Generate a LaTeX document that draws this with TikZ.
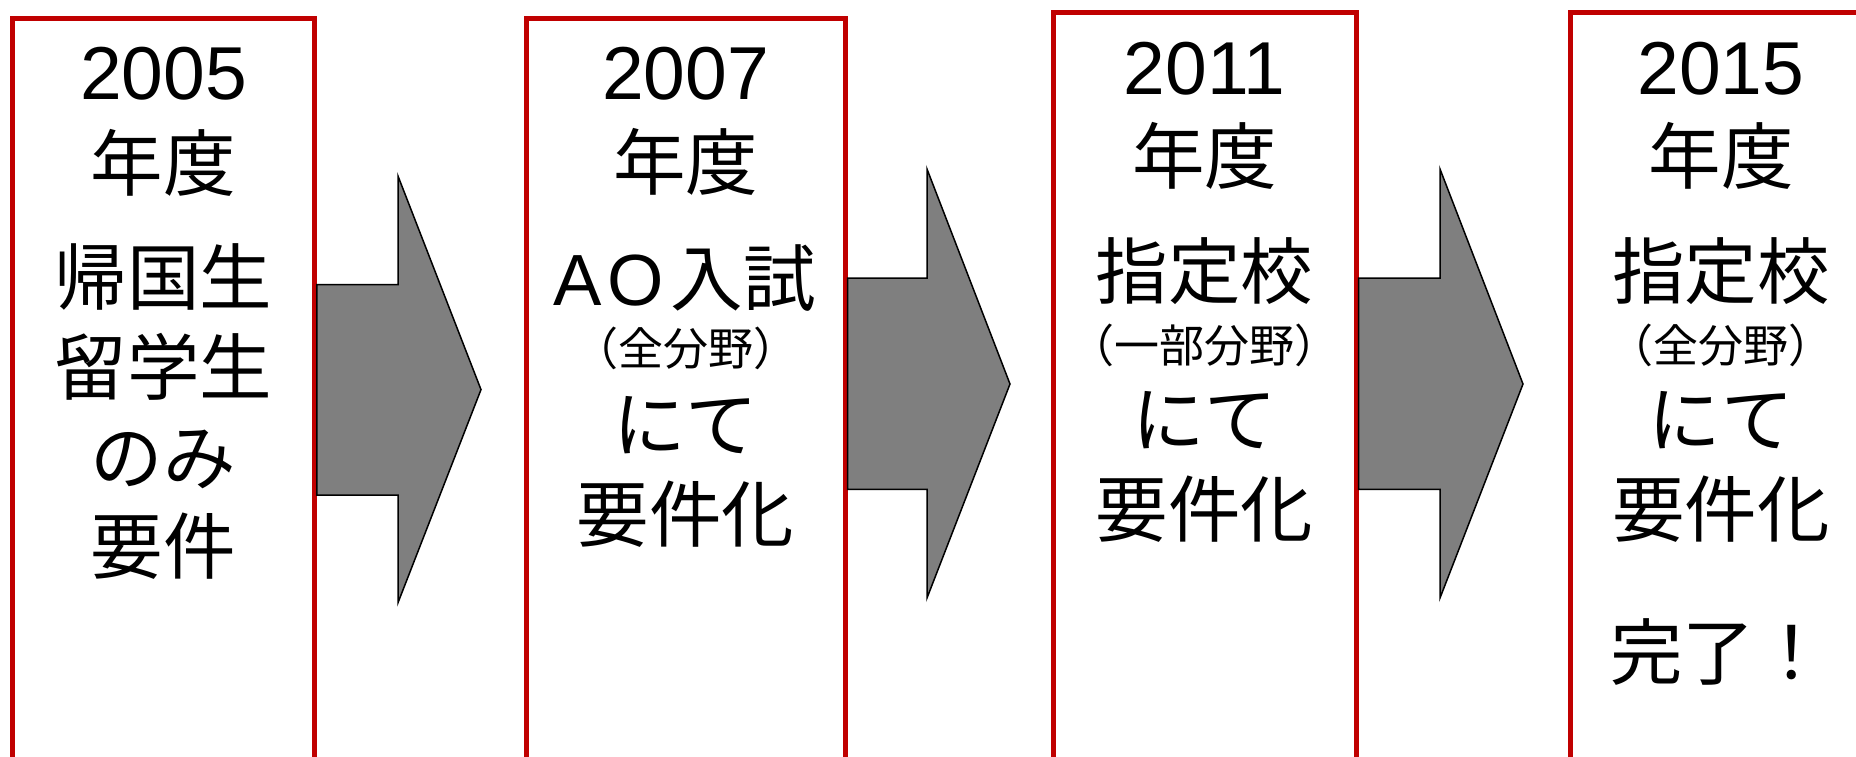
\documentclass[tikz,border=0pt]{standalone}
\usepackage{fontspec}
\setmainfont{Liberation Sans}
\newfontfamily\jp{Noto Sans CJK JP}
\definecolor{boxred}{HTML}{C00000}
\definecolor{arrowgray}{HTML}{7F7F7F}
\begin{document}
\begin{tikzpicture}[x=0.4pt,y=-0.4pt,
  yearbox/.style={draw=boxred, line width=2pt, fill=white, anchor=north, inner sep=0pt},
  bigtxt/.style={inner sep=0pt, anchor=base, font=\fontsize{30pt}{30pt}\selectfont},
  jtxt/.style={inner sep=0pt, anchor=base, font=\fontsize{29pt}{29pt}\selectfont\jp},
  smalltxt/.style={inner sep=0pt, anchor=base, font=\fontsize{18pt}{18pt}\selectfont\jp},
  blockarrow/.style={draw=black, line width=0.6pt, fill=arrowgray, line join=miter}]
\useasboundingbox (0,0) rectangle (1856,756);
\clip (0,0) rectangle (1856,756);
% boxes
\node[yearbox, minimum width=120.6pt, minimum height=313.6pt] (b1) at (163.5,16) {};
\node[yearbox, minimum width=127.6pt, minimum height=313.6pt] (b2) at (685.5,16) {};
\node[yearbox, minimum width=121.2pt, minimum height=316pt] (b3) at (1204.5,10) {};
\node[yearbox, minimum width=121.2pt, minimum height=316pt] (b4) at (1721.5,10) {};
% arrows
\draw[blockarrow] (b1.east |- 0,284.5) -- (398,284.5) -- (398,176) -- (481,389.6) -- (398,602.7) -- (398,495.2) -- (b1.east |- 0,495.2) -- cycle;
\draw[blockarrow] (b2.east |- 0,278) -- (927,278) -- (927,169) -- (1010,384) -- (927,598) -- (927,489.4) -- (b2.east |- 0,489.4) -- cycle;
\draw[blockarrow] (b3.east |- 0,278) -- (1440,278) -- (1440,169) -- (1523,384) -- (1440,598) -- (1440,489.4) -- (b3.east |- 0,489.4) -- cycle;
% box 1 text
\node[bigtxt] (t1a) at (163.5,99) {2005};
\node[jtxt] (t1b) at (163.5,190) {年度};
\node[jtxt] (t1c) at (163.5,304) {帰国生};
\node[jtxt] (t1d) at (163.5,394) {留学生};
\node[jtxt] (t1e) at (163.5,484) {のみ};
\node[jtxt] (t1f) at (163.5,573) {要件};
% box 2 text
\node[bigtxt] (t2a) at (685.5,99) {2007};
\node[jtxt] (t2b) at (685.5,189) {年度};
\node[jtxt] (t2c) at (684.5,305.5) {{\rmfamily A\hspace{2.5pt}O\hspace{2.5pt}}入試};
\node[smalltxt] (t2d) at (685.5,365.5) {（全分野）};
\node[jtxt] (t2e) at (685.5,451) {にて};
\node[jtxt] (t2f) at (685.5,541.5) {要件化};
% box 3 text
\node[bigtxt] (t3a) at (1204.5,94) {2011};
\node[jtxt] (t3b) at (1204.5,183.5) {年度};
\node[jtxt] (t3c) at (1204.5,298.5) {指定校};
\node[smalltxt] (t3d) at (1204.5,362.5) {（一部分野）};
\node[jtxt] (t3e) at (1204.5,446) {にて};
\node[jtxt] (t3f) at (1204.5,536.5) {要件化};
% box 4 text
\node[bigtxt] (t4a) at (1721,94) {2015};
\node[jtxt] (t4b) at (1721,183.5) {年度};
\node[jtxt] (t4c) at (1721,298.5) {指定校};
\node[smalltxt] (t4d) at (1721,362.5) {（全分野）};
\node[jtxt] (t4e) at (1721,446) {にて};
\node[jtxt] (t4f) at (1721,536.5) {要件化};
\node[jtxt] (t4g) at (1719,679) {完了！};
\end{tikzpicture}
\end{document}
